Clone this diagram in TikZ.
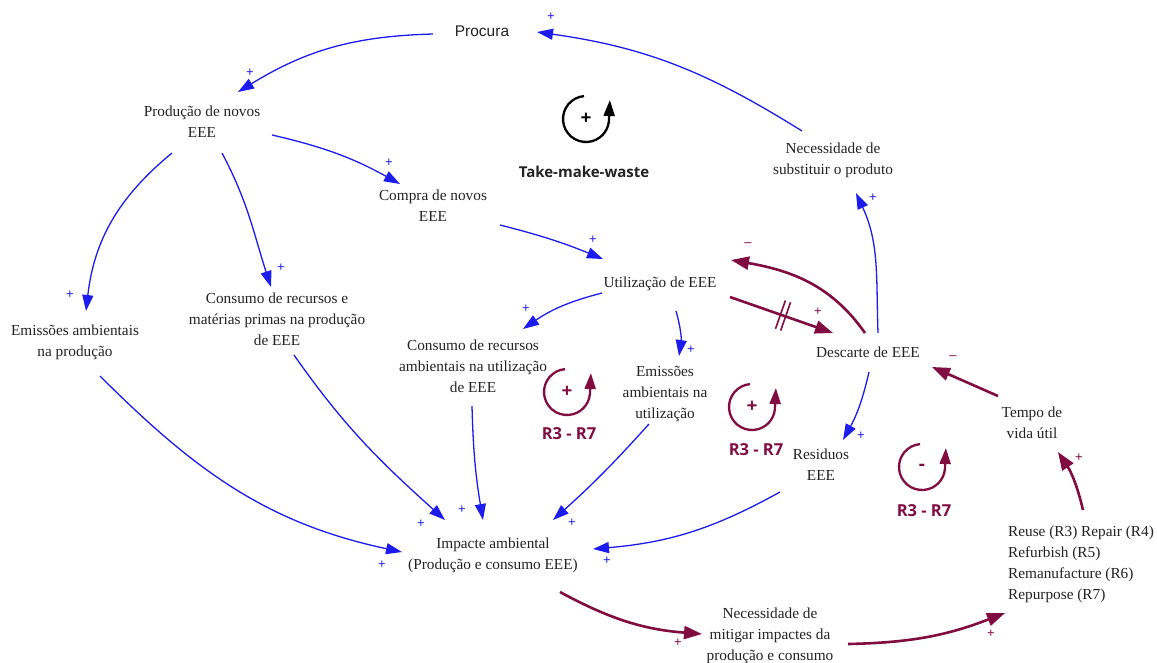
\documentclass[tikz,border=0pt]{standalone}
\usepackage{fontspec}
\setmainfont{Liberation Serif}
\newfontfamily\labelsans{Liberation Sans}
\newfontfamily\loopsans{Open Sans}
\usetikzlibrary{arrows.meta,calc}
\definecolor{linkblue}{RGB}{28,28,238}
\definecolor{wine}{RGB}{128,12,66}
\definecolor{ink}{RGB}{35,35,35}

\begin{document}
\begin{tikzpicture}[x=1pt,y=1pt,
  var/.style={text=ink, align=center, inner sep=0pt, font=\fontsize{15.3}{21}\selectfont},
  pos link/.style={draw=linkblue, line width=1.3pt, -{Triangle[length=16pt,width=11pt,fill=linkblue]}},
  wine link/.style={draw=wine, line width=2.6pt, -{Triangle[length=18pt,width=13pt,fill=wine]}},
  sgnb/.style={text=linkblue, inner sep=0pt, font=\labelsans\fontsize{13}{13}\selectfont},
  sgnw/.style={text=wine, inner sep=0pt, font=\labelsans\fontsize{13}{13}\selectfont},
  looptag/.style={text=wine, inner sep=0pt, font=\loopsans\bfseries\fontsize{16.5}{18}\selectfont},
  cyc/.pic={
    \draw[line width=2.3pt, -{Triangle[length=16pt,width=11pt]}]
      (95:23pt) arc[start angle=95, end angle=355, radius=23pt] -- ++(1,21);
    \node[inner sep=0pt, font=\loopsans\bfseries\fontsize{19}{20}\selectfont] at (0,0) {#1};
  }
]
\fill[white] (0,0) rectangle (1157,-662);
\useasboundingbox (0,0) rectangle (1157,-662);

% variables
\node[var, font=\labelsans\fontsize{15.5}{18}\selectfont] (procura) at (482,-31) {Procura};
\node[var] (prod) at (202,-122) {Produção de novos\\EEE};
\node[var] (compra) at (433,-206) {Compra de novos\\EEE};
\node[var] (util) at (660,-284) {Utilização de EEE};
\node[var] (crecamb) at (473,-366) {Consumo de recursos\\ambientais na utilização\\de EEE};
\node[var] (emisu) at (665,-394) {Emissões\\ambientais na\\utilização};
\node[var] (desc) at (868,-352) {Descarte de EEE};
\node[var] (nsub) at (833,-160) {Necessidade de\\substituir o produto};
\node[var] (emisp) at (75,-342) {Emissões ambientais\\na produção};
\node[var] (crecp) at (277,-319) {Consumo de recursos e\\matérias primas na produção\\de EEE};
\node[var] (resid) at (821,-465) {Residuos\\EEE};
\node[var] (tempo) at (1032,-423) {Tempo de\\vida útil};
\node[var, align=left] (reuse) at (1081,-564) {Reuse (R3) Repair (R4)\\Refurbish (R5)\\Remanufacture (R6)\\Repurpose (R7)};
\node[var] (impact) at (493,-555) {Impacte ambiental\\(Produção e consumo EEE)};
\node[var] (mitig) at (770,-636) {Necessidade de\\mitigar impactes da\\produção e consumo};

% loop markers
\pic[color=black] (tmw) at (586,-119) {cyc={+}};
\node[inner sep=0pt, text=ink, font=\loopsans\bfseries\fontsize{15}{18}\selectfont] (tmwlabel) at (584,-172) {Take-make-waste};
\pic[color=wine] (la) at (567,-392) {cyc={+}};
\node[looptag] (lat) at (569,-434) {R3 - R7};
\pic[color=wine] (lb) at (752,-407) {cyc={+}};
\node[looptag] (lbt) at (756,-450) {R3 - R7};
\pic[color=wine] (lc) at (922,-467) {cyc={-}};
\node[looptag] (lct) at (924,-511) {R3 - R7};

% positive links
\draw[pos link] ([shift={(-49,-3)}]procura.center) to[bend right=15] ([shift={(36,30)}]prod.center);
\draw[pos link] ([shift={(-31,29)}]nsub.center) to[out=148,in=-8] ([shift={(55,-1)}]procura.center);
\draw[pos link] ([shift={(-30,-31)}]prod.center) to[bend right=22] ([shift={(11,31)}]emisp.center);
\draw[pos link] ([shift={(20,-31)}]prod.center) to[out=-62,in=108] ([shift={(-6,32)}]crecp.center);
\draw[pos link] ([shift={(70,-13)}]prod.center) to[bend left=8] ([shift={(-33,22)}]compra.center);
\draw[pos link] ([shift={(67,-19)}]compra.center) to[bend left=4] ([shift={(-57,25)}]util.center);
\draw[pos link] ([shift={(-58,-9)}]util.center) to[bend right=10] ([shift={(50,37)}]crecamb.center);
\draw[pos link] ([shift={(16,-27)}]util.center) to[bend left=12] ([shift={(14,38)}]emisu.center);
\draw[pos link] ([shift={(10,19)}]desc.center) to[out=92,in=-65] ([shift={(23,-33)}]nsub.center);
\draw[pos link] ([shift={(1,-20)}]desc.center) to[bend left=8] ([shift={(22,25)}]resid.center);
\draw[pos link] ([shift={(25,-34)}]emisp.center) to[out=-45,in=168] ([shift={(-91,3)}]impact.center);
\draw[pos link] ([shift={(17,-36)}]crecp.center) to[out=-55,in=138] ([shift={(-48,35)}]impact.center);
\draw[pos link] ([shift={(-1,-40)}]crecamb.center) to[bend right=4] ([shift={(-10,35)}]impact.center);
\draw[pos link] ([shift={(-16,-30)}]emisu.center) to[bend left=3] ([shift={(60,35)}]impact.center);
\draw[pos link] ([shift={(-41,-27)}]resid.center) to[bend left=12] ([shift={(100,6)}]impact.center);

% circular-strategy links
\draw[wine link] ([shift={(-3,19)}]desc.center) to[out=125,in=-10] ([shift={(71,24)}]util.center);
\draw[wine link] ([shift={(70,-13)}]util.center) -- coordinate[pos=.49] (dA) coordinate[pos=.54] (dB) ([shift={(-35,19)}]desc.center);
\draw[wine, line width=1.6pt] ($(dA)!15pt!90:(dB)$) -- ($(dA)!15pt!-90:(dB)$);
\draw[wine, line width=1.6pt] ($(dB)!15pt!-90:(dA)$) -- ($(dB)!15pt!90:(dA)$);
\draw[wine link] ([shift={(-34,27)}]tempo.center) -- ([shift={(64,-15)}]desc.center);
\draw[wine link] ([shift={(2,54)}]reuse.center) to[bend right=10] ([shift={(26,-29)}]tempo.center);
\draw[wine link] ([shift={(67,-37)}]impact.center) to[bend right=12] ([shift={(-68,2)}]mitig.center);
\draw[wine link] ([shift={(78,-8)}]mitig.center) to[bend right=10] ([shift={(-76,-49)}]reuse.center);

% polarity signs
\node[sgnb] (p1) at (250,-73) {+};
\node[sgnb] (p2) at (551,-17) {+};
\node[sgnb] (p3) at (389,-163) {+};
\node[sgnb] (p4) at (281,-268) {+};
\node[sgnb] (p5) at (70,-295) {+};
\node[sgnb] (p6) at (593,-240) {+};
\node[sgnb] (p7) at (526,-309) {+};
\node[sgnb] (p8) at (691,-350) {+};
\node[sgnb] (p9) at (873,-198) {+};
\node[sgnb] (p10) at (861,-436) {+};
\node[sgnb] (p11) at (382,-565) {+};
\node[sgnb] (p12) at (421,-524) {+};
\node[sgnb] (p13) at (462,-510) {+};
\node[sgnb] (p14) at (572,-523) {+};
\node[sgnb] (p15) at (607,-561) {+};
\node[sgnw] (m1) at (748,-245) {–};
\node[sgnw] (m2) at (818,-312) {+};
\node[sgnw] (m3) at (953,-358) {–};
\node[sgnw] (m4) at (1079,-458) {+};
\node[sgnw] (m5) at (678,-643) {+};
\node[sgnw] (m6) at (991,-634) {+};
\end{tikzpicture}
\end{document}
